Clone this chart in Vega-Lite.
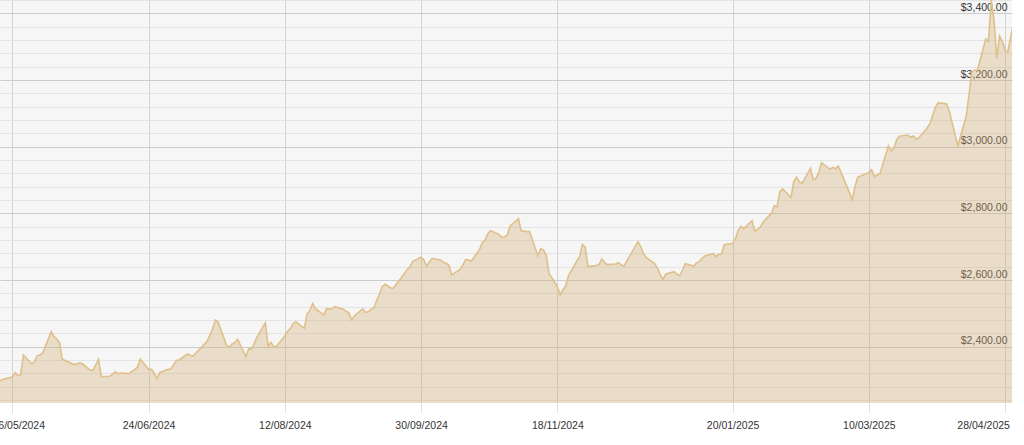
{
  "$schema": "https://vega.github.io/schema/vega-lite/v6.json",
  "width": 1012,
  "height": 403,
  "autosize": {"type": "none"},
  "padding": {"left": 0, "top": 0, "right": 12, "bottom": 42},
  "background": "#ffffff",
  "config": {
    "font": "Liberation Sans",
    "view": {"fill": "#f6f6f6", "stroke": null}
  },
  "data": {
    "format": {"parse": {"date": "date:'%Y-%m-%d'"}},
    "values": [
      {"date":"2024-05-01","price":2295},{"date":"2024-05-02","price":2300},{"date":"2024-05-03","price":2303},
      {"date":"2024-05-06","price":2309},{"date":"2024-05-07","price":2322},{"date":"2024-05-08","price":2313},{"date":"2024-05-09","price":2315},{"date":"2024-05-10","price":2375},
      {"date":"2024-05-13","price":2348},{"date":"2024-05-14","price":2355},{"date":"2024-05-15","price":2373},{"date":"2024-05-16","price":2375},{"date":"2024-05-17","price":2382},
      {"date":"2024-05-20","price":2445},{"date":"2024-05-21","price":2430},{"date":"2024-05-22","price":2423},{"date":"2024-05-23","price":2412},{"date":"2024-05-24","price":2362},
      {"date":"2024-05-27","price":2351},{"date":"2024-05-28","price":2347},{"date":"2024-05-29","price":2347},{"date":"2024-05-30","price":2351},{"date":"2024-05-31","price":2350},
      {"date":"2024-06-03","price":2330},{"date":"2024-06-04","price":2329},{"date":"2024-06-05","price":2345},{"date":"2024-06-06","price":2362},{"date":"2024-06-07","price":2310},
      {"date":"2024-06-10","price":2311},{"date":"2024-06-11","price":2317},{"date":"2024-06-12","price":2325},{"date":"2024-06-13","price":2319},{"date":"2024-06-14","price":2321},
      {"date":"2024-06-17","price":2319},{"date":"2024-06-18","price":2326},{"date":"2024-06-19","price":2331},{"date":"2024-06-20","price":2339},{"date":"2024-06-21","price":2363},
      {"date":"2024-06-24","price":2332},{"date":"2024-06-25","price":2332},{"date":"2024-06-26","price":2321},{"date":"2024-06-27","price":2304},{"date":"2024-06-28","price":2322},
      {"date":"2024-07-01","price":2332},{"date":"2024-07-02","price":2333},{"date":"2024-07-03","price":2345},{"date":"2024-07-04","price":2359},{"date":"2024-07-05","price":2360},
      {"date":"2024-07-08","price":2378},{"date":"2024-07-09","price":2374},{"date":"2024-07-10","price":2372},{"date":"2024-07-11","price":2381},{"date":"2024-07-12","price":2389},
      {"date":"2024-07-15","price":2415},{"date":"2024-07-16","price":2433},{"date":"2024-07-17","price":2452},{"date":"2024-07-18","price":2480},{"date":"2024-07-19","price":2474},
      {"date":"2024-07-22","price":2405},{"date":"2024-07-23","price":2398},{"date":"2024-07-24","price":2408},{"date":"2024-07-25","price":2412},{"date":"2024-07-26","price":2422},
      {"date":"2024-07-29","price":2370},{"date":"2024-07-30","price":2394},{"date":"2024-07-31","price":2393},{"date":"2024-08-01","price":2410},{"date":"2024-08-02","price":2429},
      {"date":"2024-08-05","price":2472},{"date":"2024-08-06","price":2400},{"date":"2024-08-07","price":2413},{"date":"2024-08-08","price":2400},{"date":"2024-08-09","price":2401},
      {"date":"2024-08-12","price":2432},{"date":"2024-08-13","price":2446},{"date":"2024-08-14","price":2454},{"date":"2024-08-15","price":2469},{"date":"2024-08-16","price":2475},
      {"date":"2024-08-19","price":2455},{"date":"2024-08-20","price":2498},{"date":"2024-08-21","price":2508},{"date":"2024-08-22","price":2530},{"date":"2024-08-23","price":2514},
      {"date":"2024-08-26","price":2495},{"date":"2024-08-27","price":2514},{"date":"2024-08-28","price":2513},{"date":"2024-08-29","price":2513},{"date":"2024-08-30","price":2520},
      {"date":"2024-09-02","price":2512},{"date":"2024-09-03","price":2506},{"date":"2024-09-04","price":2502},{"date":"2024-09-05","price":2480},{"date":"2024-09-06","price":2492},
      {"date":"2024-09-09","price":2513},{"date":"2024-09-10","price":2503},{"date":"2024-09-11","price":2505},{"date":"2024-09-12","price":2512},{"date":"2024-09-13","price":2516},
      {"date":"2024-09-16","price":2579},{"date":"2024-09-17","price":2587},{"date":"2024-09-18","price":2582},{"date":"2024-09-19","price":2577},{"date":"2024-09-20","price":2575},
      {"date":"2024-09-23","price":2608},{"date":"2024-09-24","price":2620},{"date":"2024-09-25","price":2631},{"date":"2024-09-26","price":2640},{"date":"2024-09-27","price":2656},
      {"date":"2024-09-30","price":2668},{"date":"2024-10-01","price":2660},{"date":"2024-10-02","price":2641},{"date":"2024-10-03","price":2655},{"date":"2024-10-04","price":2665},
      {"date":"2024-10-07","price":2660},{"date":"2024-10-08","price":2653},{"date":"2024-10-09","price":2650},{"date":"2024-10-10","price":2644},{"date":"2024-10-11","price":2615},
      {"date":"2024-10-14","price":2632},{"date":"2024-10-15","price":2645},{"date":"2024-10-16","price":2661},{"date":"2024-10-17","price":2660},{"date":"2024-10-18","price":2656},
      {"date":"2024-10-21","price":2691},{"date":"2024-10-22","price":2712},{"date":"2024-10-23","price":2720},{"date":"2024-10-24","price":2739},{"date":"2024-10-25","price":2748},
      {"date":"2024-10-28","price":2737},{"date":"2024-10-29","price":2728},{"date":"2024-10-30","price":2729},{"date":"2024-10-31","price":2735},{"date":"2024-11-01","price":2762},
      {"date":"2024-11-04","price":2784},{"date":"2024-11-05","price":2747},{"date":"2024-11-06","price":2747},{"date":"2024-11-07","price":2745},{"date":"2024-11-08","price":2745},
      {"date":"2024-11-11","price":2672},{"date":"2024-11-12","price":2694},{"date":"2024-11-13","price":2690},{"date":"2024-11-14","price":2675},{"date":"2024-11-15","price":2620},
      {"date":"2024-11-18","price":2580},{"date":"2024-11-19","price":2555},{"date":"2024-11-20","price":2570},{"date":"2024-11-21","price":2582},{"date":"2024-11-22","price":2613},
      {"date":"2024-11-25","price":2657},{"date":"2024-11-26","price":2670},{"date":"2024-11-27","price":2707},{"date":"2024-11-28","price":2698},{"date":"2024-11-29","price":2640},
      {"date":"2024-12-02","price":2643},{"date":"2024-12-03","price":2647},{"date":"2024-12-04","price":2663},{"date":"2024-12-05","price":2652},{"date":"2024-12-06","price":2646},
      {"date":"2024-12-09","price":2648},{"date":"2024-12-10","price":2652},{"date":"2024-12-11","price":2645},{"date":"2024-12-12","price":2642},{"date":"2024-12-13","price":2657},
      {"date":"2024-12-16","price":2701},{"date":"2024-12-17","price":2715},{"date":"2024-12-18","price":2699},{"date":"2024-12-19","price":2678},{"date":"2024-12-20","price":2667},
      {"date":"2024-12-23","price":2649},{"date":"2024-12-24","price":2636},{"date":"2024-12-25","price":2616},{"date":"2024-12-26","price":2602},{"date":"2024-12-27","price":2618},
      {"date":"2024-12-30","price":2625},{"date":"2024-12-31","price":2617},{"date":"2025-01-01","price":2613},{"date":"2025-01-02","price":2630},{"date":"2025-01-03","price":2649},
      {"date":"2025-01-06","price":2642},{"date":"2025-01-07","price":2651},{"date":"2025-01-08","price":2655},{"date":"2025-01-09","price":2664},{"date":"2025-01-10","price":2672},
      {"date":"2025-01-13","price":2679},{"date":"2025-01-14","price":2670},{"date":"2025-01-15","price":2677},{"date":"2025-01-16","price":2678},{"date":"2025-01-17","price":2706},
      {"date":"2025-01-20","price":2710},{"date":"2025-01-21","price":2723},{"date":"2025-01-22","price":2748},{"date":"2025-01-23","price":2761},{"date":"2025-01-24","price":2754},
      {"date":"2025-01-27","price":2778},{"date":"2025-01-28","price":2747},{"date":"2025-01-29","price":2752},{"date":"2025-01-30","price":2759},{"date":"2025-01-31","price":2774},
      {"date":"2025-02-03","price":2801},{"date":"2025-02-04","price":2823},{"date":"2025-02-05","price":2820},{"date":"2025-02-06","price":2864},{"date":"2025-02-07","price":2873},
      {"date":"2025-02-10","price":2848},{"date":"2025-02-11","price":2895},{"date":"2025-02-12","price":2908},{"date":"2025-02-13","price":2895},{"date":"2025-02-14","price":2890},
      {"date":"2025-02-17","price":2935},{"date":"2025-02-18","price":2901},{"date":"2025-02-19","price":2905},{"date":"2025-02-20","price":2923},{"date":"2025-02-21","price":2952},
      {"date":"2025-02-24","price":2932},{"date":"2025-02-25","price":2938},{"date":"2025-02-26","price":2934},{"date":"2025-02-27","price":2942},{"date":"2025-02-28","price":2923},
      {"date":"2025-03-03","price":2862},{"date":"2025-03-04","price":2840},{"date":"2025-03-05","price":2879},{"date":"2025-03-06","price":2908},{"date":"2025-03-07","price":2912},
      {"date":"2025-03-10","price":2922},{"date":"2025-03-11","price":2931},{"date":"2025-03-12","price":2910},{"date":"2025-03-13","price":2915},{"date":"2025-03-14","price":2919},
      {"date":"2025-03-17","price":3002},{"date":"2025-03-18","price":2987},{"date":"2025-03-19","price":2996},{"date":"2025-03-20","price":3020},{"date":"2025-03-21","price":3031},
      {"date":"2025-03-24","price":3035},{"date":"2025-03-25","price":3028},{"date":"2025-03-26","price":3032},{"date":"2025-03-27","price":3023},{"date":"2025-03-28","price":3027},
      {"date":"2025-03-31","price":3057},{"date":"2025-04-01","price":3070},{"date":"2025-04-02","price":3095},{"date":"2025-04-03","price":3120},{"date":"2025-04-04","price":3132},
      {"date":"2025-04-07","price":3128},{"date":"2025-04-08","price":3105},{"date":"2025-04-09","price":3070},{"date":"2025-04-10","price":3035},{"date":"2025-04-11","price":3003},
      {"date":"2025-04-14","price":3091},{"date":"2025-04-15","price":3155},{"date":"2025-04-16","price":3223},{"date":"2025-04-17","price":3230},{"date":"2025-04-18","price":3228},
      {"date":"2025-04-21","price":3323},{"date":"2025-04-22","price":3315},{"date":"2025-04-23","price":3440},{"date":"2025-04-24","price":3380},{"date":"2025-04-25","price":3265},
      {"date":"2025-04-26","price":3332},{"date":"2025-04-27","price":3315},{"date":"2025-04-28","price":3288},{"date":"2025-04-29","price":3285},{"date":"2025-04-30","price":3330},
      {"date":"2025-05-01","price":3368}
    ]
  },
  "mark": {
    "type": "area",
    "clip": true,
    "color": "#d2b078",
    "fillOpacity": 0.35,
    "line": {"color": "#dfc08a", "strokeWidth": 1.6}
  },
  "encoding": {
    "x": {
      "field": "date",
      "type": "temporal",
      "scale": {
        "domain": [
          {"year": 2024, "month": 5, "date": 1, "hours": 14},
          {"year": 2025, "month": 4, "date": 30, "hours": 11, "minutes": 15}
        ]
      },
      "axis": {
        "title": null,
        "domain": false,
        "values": [
          {"year": 2024, "month": 5, "date": 6},
          {"year": 2024, "month": 6, "date": 24},
          {"year": 2024, "month": 8, "date": 12},
          {"year": 2024, "month": 9, "date": 30},
          {"year": 2024, "month": 11, "date": 18},
          {"year": 2025, "month": 1, "date": 20},
          {"year": 2025, "month": 3, "date": 10},
          {"year": 2025, "month": 4, "date": 28}
        ],
        "format": "%d/%m/%Y",
        "grid": true,
        "gridColor": "#d2d2d2",
        "gridWidth": 1,
        "ticks": true,
        "tickSize": 10,
        "tickColor": "#e2e2e2",
        "labelPadding": 7,
        "labelOffset": {
          "condition": [
            {"test": "datum.value < datetime(2024, 5, 1)", "value": 6},
            {"test": "datum.value > datetime(2025, 3, 1)", "value": -22}
          ],
          "value": 0
        },
        "labelFontSize": 10.5,
        "labelColor": "#333333",
        "labelOverlap": false,
        "labelFlush": false,
        "labelBound": false
      }
    },
    "y": {
      "field": "price",
      "type": "quantitative",
      "scale": {"domain": [2231, 3440], "nice": false, "zero": false},
      "axis": {
        "title": null,
        "orient": "right",
        "domain": false,
        "ticks": false,
        "values": [2240,2280,2320,2360,2400,2440,2480,2520,2560,2600,2640,2680,2720,2760,2800,2840,2880,2920,2960,3000,3040,3080,3120,3160,3200,3240,3280,3320,3360,3400,3440],
        "format": "$,.2f",
        "labelExpr": "datum.value % 200 === 0 ? datum.label : ''",
        "grid": true,
        "gridColor": {"condition": {"test": "datum.value % 200 === 0", "value": "#cccccc"}, "value": "#e4e4e4"},
        "labelAlign": "right",
        "labelBaseline": "alphabetic",
        "labelPadding": -5,
        "labelOffset": -3,
        "labelFontSize": 10.5,
        "labelColor": "#333333",
        "labelOverlap": false,
        "labelBound": false,
        "labelFlush": false
      }
    }
  }
}
